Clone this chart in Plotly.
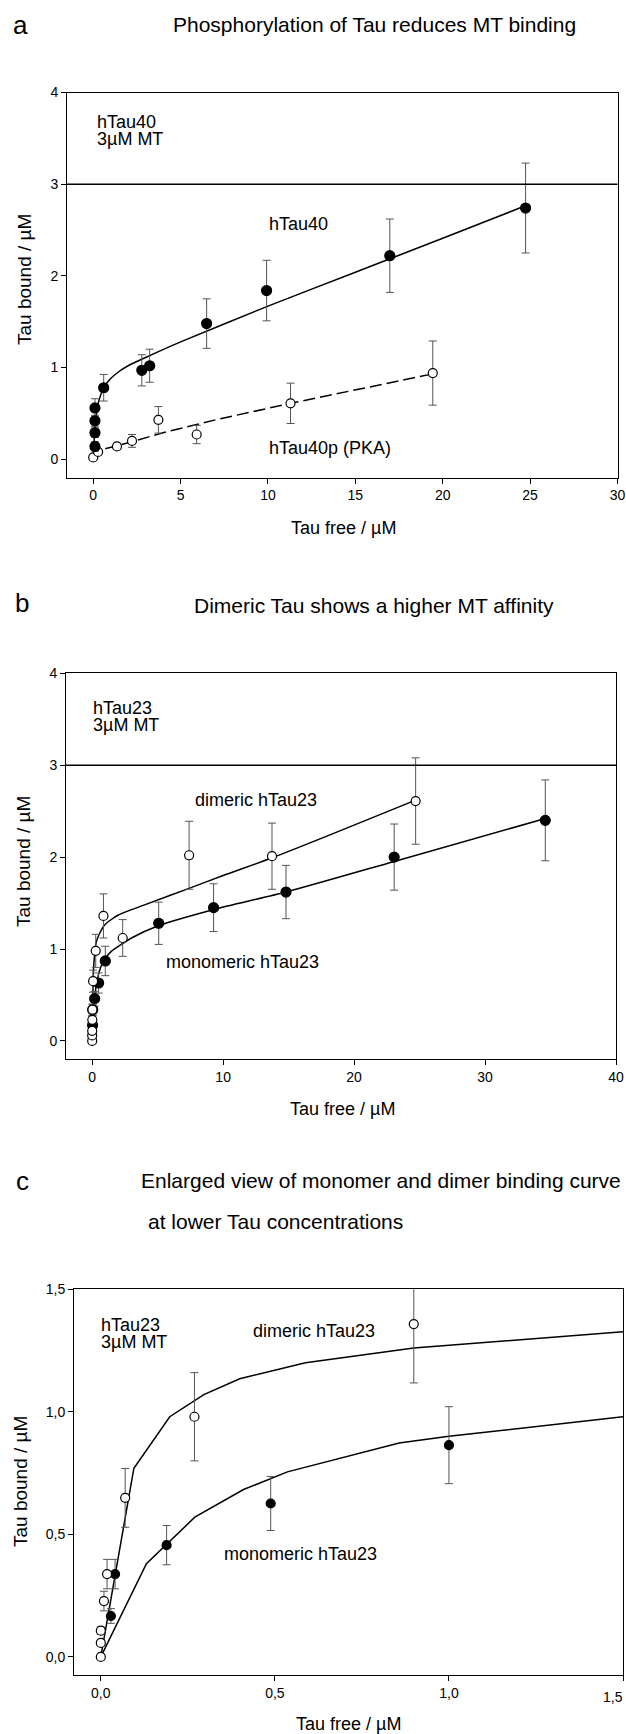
import plotly.graph_objects as go

# ---------------- data ----------------
# Panel a : hTau40 (filled) and hTau40p (PKA) (open)
a_x_htau40 = [0.1, 0.1, 0.1, 0.1, 0.6, 2.78, 3.23, 6.49, 9.92, 16.97, 24.74]
a_y_htau40 = [0.14, 0.29, 0.42, 0.56, 0.78, 0.97, 1.02, 1.48, 1.84, 2.22, 2.74]
a_e_htau40 = [0.05, 0.05, 0.06, 0.10, 0.145, 0.17, 0.18, 0.27, 0.33, 0.40, 0.49]
a_x_pka = [0.0, 0.28, 1.36, 2.22, 3.73, 5.92, 11.29, 19.43]
a_y_pka = [0.02, 0.08, 0.14, 0.20, 0.43, 0.27, 0.61, 0.94]
a_e_pka = [0.02, 0.03, 0.03, 0.07, 0.145, 0.10, 0.22, 0.35]
a_fit_x_htau40 = [0, 0.05, 0.1, 0.2, 0.3, 0.6, 1.0, 1.5, 2, 3, 5, 10, 15, 20, 24.8]
a_fit_y_htau40 = [0, 0.20, 0.35, 0.51, 0.62, 0.78, 0.88, 0.96, 1.02, 1.11, 1.28, 1.67, 2.04, 2.41, 2.77]
a_fit_x_pka = [0, 0.1, 0.4, 1, 2, 4, 7, 11.3, 15, 19.4]
a_fit_y_pka = [0, 0.05, 0.10, 0.13, 0.18, 0.29, 0.43, 0.61, 0.76, 0.93]

# Panel b : dimeric (open) and monomeric (filled) hTau23
b_x_dim = [0, 0, 0, 0.01, 0.02, 0.07, 0.27, 0.86, 2.33, 7.4, 13.73, 24.7]
b_y_dim = [0, 0.06, 0.11, 0.23, 0.34, 0.65, 0.98, 1.36, 1.12, 2.02, 2.01, 2.61]
b_e_dim = [0.01, 0.02, 0.02, 0.04, 0.06, 0.12, 0.18, 0.24, 0.20, 0.37, 0.36, 0.47]
b_x_mono = [0.03, 0.04, 0.19, 0.49, 1.0, 5.08, 9.27, 14.8, 23.06, 34.6]
b_y_mono = [0.17, 0.34, 0.46, 0.63, 0.87, 1.28, 1.45, 1.62, 2.00, 2.40]
b_e_mono = [0.03, 0.06, 0.08, 0.11, 0.16, 0.23, 0.26, 0.29, 0.36, 0.44]
b_fit_x_dim = [0, 0.1, 0.2, 0.3, 0.6, 1, 2, 4, 7.4, 10, 13.7, 18.3, 24.7]
b_fit_y_dim = [0, 0.77, 0.96, 1.07, 1.18, 1.27, 1.37, 1.48, 1.66, 1.80, 1.99, 2.25, 2.62]
b_fit_x_mono = [0, 0.03, 0.13, 0.19, 0.27, 0.41, 0.54, 0.86, 1.0, 1.5, 2, 3, 5, 9.3, 14.8, 23, 34.6]
b_fit_y_mono = [0, 0.20, 0.38, 0.46, 0.57, 0.68, 0.755, 0.87, 0.90, 0.98, 1.03, 1.12, 1.25, 1.43, 1.62, 1.95, 2.42]

# Panel c : enlarged low-concentration view
c_x_dim = [0, 0, 0, 0.009, 0.018, 0.07, 0.269, 0.899]
c_y_dim = [0, 0.057, 0.107, 0.228, 0.338, 0.649, 0.98, 1.358]
c_e_dim = [0.005, 0.01, 0.015, 0.04, 0.06, 0.12, 0.18, 0.24]
c_x_mono = [0.029, 0.041, 0.189, 0.488, 1.0]
c_y_mono = [0.167, 0.338, 0.456, 0.626, 0.864]
c_e_mono = [0.03, 0.06, 0.08, 0.11, 0.157]
c_fit_x_dim = [0, 0.095, 0.198, 0.296, 0.399, 0.588, 0.899, 1.5]
c_fit_y_dim = [0, 0.77, 0.98, 1.07, 1.135, 1.20, 1.26, 1.327]
c_fit_x_mono = [0, 0.131, 0.27, 0.41, 0.536, 0.857, 1.0, 1.5]
c_fit_y_mono = [0, 0.38, 0.57, 0.683, 0.755, 0.873, 0.90, 0.98]

mt_conc = 3  # horizontal line, 3 µM MT

ab_yticks = [0, 1, 2, 3, 4]
a_xticks = [0, 5, 10, 15, 20, 25, 30]
b_xticks = [0, 10, 20, 30, 40]
c_ticks = [0.0, 0.5, 1.0, 1.5]
c_ticklabels = ["0,0", "0,5", "1,0", "1,5"]

# ---------------- figure ----------------
W, H = 626, 1734
FONT = "Arial, Liberation Sans, Helvetica, sans-serif"


def P(x, y):
    return x / W, 1 - y / H


fig = go.Figure()

ERR = dict(type="data", color="#555555", thickness=1, width=4)


def curve(x, y, xa, ya, dash="solid", shape="spline"):
    fig.add_trace(go.Scatter(x=x, y=y, xaxis=xa, yaxis=ya, mode="lines",
                             line=dict(color="black", width=1.5, dash=dash, shape=shape,
                                       smoothing=0.6 if shape == "spline" else None),
                             showlegend=False, hoverinfo="skip"))


def points(x, y, e, xa, ya, filled, size=10):
    fig.add_trace(go.Scatter(
        x=x, y=y, xaxis=xa, yaxis=ya, mode="markers",
        error_y=dict(array=e, **ERR),
        marker=dict(symbol="circle", size=size,
                    color="black" if filled else "white",
                    line=dict(color="black", width=1.2)),
        showlegend=False))


# panel a
curve(a_fit_x_htau40, a_fit_y_htau40, "x", "y")
curve(a_fit_x_pka, a_fit_y_pka, "x", "y", dash="12px,5px", shape="linear")
points(a_x_pka, a_y_pka, a_e_pka, "x", "y", False, 9)
points(a_x_htau40, a_y_htau40, a_e_htau40, "x", "y", True, 10)

# panel b
curve(b_fit_x_dim, b_fit_y_dim, "x2", "y2")
curve(b_fit_x_mono, b_fit_y_mono, "x2", "y2")
points(b_x_mono, b_y_mono, b_e_mono, "x2", "y2", True, 10)
points(b_x_dim, b_y_dim, b_e_dim, "x2", "y2", False, 9)

# panel c
curve(c_fit_x_dim, c_fit_y_dim, "x3", "y3", shape="linear")
curve(c_fit_x_mono, c_fit_y_mono, "x3", "y3", shape="linear")
points(c_x_mono, c_y_mono, c_e_mono, "x3", "y3", True, 9)
points(c_x_dim, c_y_dim, c_e_dim, "x3", "y3", False, 9)

axis_common = dict(showline=True, linecolor="black", linewidth=1, mirror=True,
                   ticks="outside", ticklen=5, tickwidth=1, tickcolor="black",
                   showgrid=False, zeroline=False, automargin=False,
                   tickfont=dict(family=FONT, size=14, color="black"))

# domains from pixel positions
a_xd = [67 / W, 617.5 / W]
a_yd = [1 - 477.6 / H, 1 - 92.5 / H]
b_xd = [66 / W, 616 / W]
b_yd = [1 - 1059.3 / H, 1 - 673.3 / H]
c_xd = [74 / W, 623 / W]
c_yd = [1 - 1675.3 / H, 1 - 1289.3 / H]

fig.update_layout(
    template="none",
    width=W, height=H, margin=dict(l=0, r=0, t=0, b=0, pad=0),
    paper_bgcolor="white", plot_bgcolor="white",
    font=dict(family=FONT, color="black"),
    xaxis=dict(domain=a_xd, range=[-1.5, 30], tickvals=a_xticks, anchor="y", **axis_common),
    yaxis=dict(domain=a_yd, range=[-0.2, 4], tickvals=ab_yticks, anchor="x", **axis_common),
    xaxis2=dict(domain=b_xd, range=[-2, 40], tickvals=b_xticks, anchor="y2", **axis_common),
    yaxis2=dict(domain=b_yd, range=[-0.2, 4], tickvals=ab_yticks, anchor="x2", **axis_common),
    xaxis3=dict(domain=c_xd, range=[-0.077, 1.5], tickvals=c_ticks, ticktext=c_ticklabels,
                anchor="y3", **axis_common),
    yaxis3=dict(domain=c_yd, range=[-0.075, 1.5], tickvals=c_ticks, ticktext=c_ticklabels,
                anchor="x3", **axis_common),
)

for xr, yr in [("x", "y"), ("x2", "y2")]:
    fig.add_shape(type="line", xref=f"{xr} domain", yref=yr, x0=0, x1=1,
                  y0=mt_conc, y1=mt_conc, line=dict(color="black", width=1.5))


def text(s, x, y, size=18, xanchor="center", yanchor="middle", angle=0):
    px, py = P(x, y)
    fig.add_annotation(text=s, x=px, y=py, xref="paper", yref="paper",
                       showarrow=False, xanchor=xanchor, yanchor=yanchor,
                       textangle=angle, font=dict(family=FONT, size=size, color="black"))


# panel a texts
text("a", 20, 25, size=26)
text("Phosphorylation of Tau reduces MT binding", 374, 25, size=21)
text("hTau40", 95, 122, xanchor="left")
text("3µM MT", 95, 139, xanchor="left")
text("hTau40", 298, 224)
text("hTau40p (PKA)", 330, 448)
text("Tau bound / µM", 24, 280, size=19, angle=-90)
text("Tau free / µM", 343, 528)

# panel b texts
text("b", 22, 603, size=26)
text("Dimeric Tau shows a higher MT affinity", 374, 605, size=21)
text("hTau23", 91, 708, xanchor="left")
text("3µM MT", 91, 725, xanchor="left")
text("dimeric hTau23", 256, 800)
text("monomeric hTau23", 242, 962)
text("Tau bound / µM", 24, 862, size=19, angle=-90)
text("Tau free / µM", 342, 1109)

# panel c texts
text("c", 22, 1181, size=26)
text("Enlarged view of monomer and dimer binding curve", 139, 1180, size=21, xanchor="left")
text("at lower Tau concentrations", 146, 1221, size=21, xanchor="left")
text("hTau23", 99, 1325, xanchor="left")
text("3µM MT", 99, 1342, xanchor="left")
text("dimeric hTau23", 314, 1331)
text("monomeric hTau23", 300, 1554)
text("Tau bound / µM", 20, 1482, size=19, angle=-90)
text("Tau free / µM", 348, 1724)
# last x tick label of panel c, kept fully inside the page edge
text(c_ticklabels[-1], 625, 1697, size=14, xanchor="right")

fig.write_html("out.html")
